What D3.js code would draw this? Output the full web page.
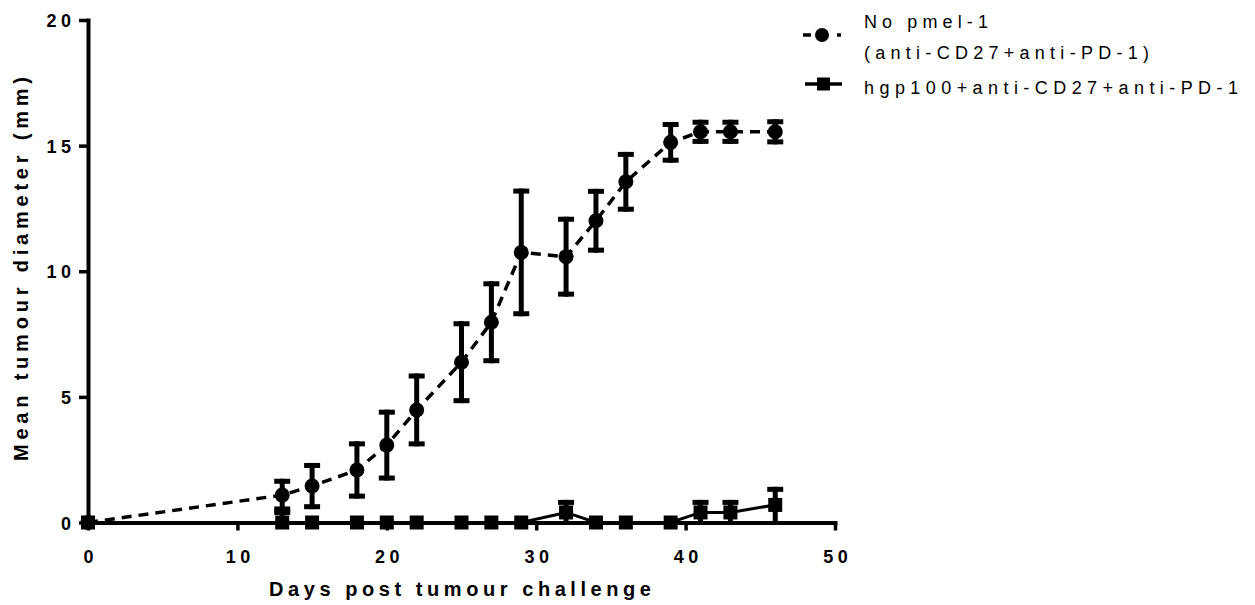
<!DOCTYPE html>
<html>
<head>
<meta charset="utf-8">
<script src="https://cdn.jsdelivr.net/npm/d3@7"></script>
<style>
  html, body { margin: 0; padding: 0; background: #fff; }
  svg { display: block; }
  text { font-family: "Liberation Sans", Arial, Helvetica, sans-serif; fill: #000; }
</style>
</head>
<body>
<svg id="chart" width="1255" height="605"></svg>
<script>
// Days after tumour challenge at which diameters were measured
const days = [0, 13, 15, 18, 20, 22, 25, 27, 29, 32, 34, 36, 39, 41, 43, 46];

// No pmel-1 (anti-CD27 + anti-PD-1): mean diameter (mm) and SEM
const noPmelMean = [0, 1.09, 1.45, 2.09, 3.08, 4.48, 6.38, 7.97, 10.75, 10.58, 12.01, 13.56, 15.13, 15.55, 15.55, 15.55];
const noPmelSem  = [0, 0.65, 0.92, 1.14, 1.41, 1.45, 1.63, 1.63, 2.54, 1.59, 1.27, 1.19, 0.81, 0.48, 0.48, 0.50];

// hgp100 + anti-CD27 + anti-PD-1: mean diameter (mm) and SEM
const hgpMean = [0, 0, 0, 0, 0, 0, 0, 0, 0, 0.4, 0, 0, 0, 0.4, 0.4, 0.7];
const hgpSem  = [0, 0.5, 0, 0, 0, 0, 0, 0, 0, 0.5, 0, 0, 0, 0.5, 0.5, 0.72];

const xTicks = [0, 10, 20, 30, 40, 50];
const yTicks = [0, 5, 10, 15, 20];
const xTitle = "Days post tumour challenge";
const yTitle = "Mean tumour diameter (mm)";
const legendNoPmel = ["No pmel-1", "(anti-CD27+anti-PD-1)"];
const legendHgp = ["hgp100+anti-CD27+anti-PD-1"];

const svg = d3.select("#chart");
const x = d3.scaleLinear().domain([0, 50]).range([88, 835]);
const y = d3.scaleLinear().domain([0, 20]).range([522.5, 20]);

// Text with wide letter spacing; either a fixed spacing or a target total width.
function spacedText(parent, str, o) {
  const t = parent.append("text").text(str)
    .style("font-size", o.size + "px")
    .style("font-weight", o.weight || "normal")
    .attr("text-anchor", "start")
    .attr("y", o.y || 0);
  const natural = t.node().getComputedTextLength();
  const gaps = Math.max(1, str.length - 1);
  const ls = o.spacing != null ? o.spacing : (o.width - natural) / gaps;
  const total = natural + ls * (str.length - 1);
  let x0 = o.x || 0;
  if (o.anchor === "middle") x0 -= total / 2;
  else if (o.anchor === "end") x0 -= total;
  t.style("letter-spacing", ls + "px").attr("x", x0);
  return t;
}

// ---- axes ----
const gx = svg.append("g")
  .attr("transform", `translate(0,${y(0)})`)
  .call(d3.axisBottom(x).tickValues(xTicks).tickSize(8).tickSizeOuter(0).tickFormat(d3.format("d")));
gx.select(".domain").attr("stroke", "#000").attr("stroke-width", 4).attr("stroke-linecap", "square");
gx.selectAll(".tick line").attr("stroke", "#000").attr("stroke-width", 3.5);
gx.selectAll(".tick text").remove();
gx.selectAll(".tick").each(function (d) {
  spacedText(d3.select(this), String(d), { x: 0, y: 563 - y(0), anchor: "middle", size: 18, weight: "bold", spacing: 4.5 });
});

const gy = svg.append("g")
  .attr("transform", `translate(${x(0)},0)`)
  .call(d3.axisLeft(y).tickValues(yTicks).tickSize(9).tickSizeOuter(0).tickFormat(d3.format("d")));
gy.select(".domain").attr("stroke", "#000").attr("stroke-width", 4).attr("stroke-linecap", "square");
gy.selectAll(".tick line").attr("stroke", "#000").attr("stroke-width", 3.5);
gy.selectAll(".tick text").remove();
gy.selectAll(".tick").each(function (d) {
  spacedText(d3.select(this), String(d), { x: -17, y: 6.5, anchor: "end", size: 18, weight: "bold", spacing: 4.5 });
});

// axis titles
spacedText(svg, xTitle, { x: 269, y: 596, size: 20, weight: "bold", width: 382 });
const yt = svg.append("g").attr("transform", "translate(28,461) rotate(-90)");
spacedText(yt, yTitle, { x: 0, y: 0, size: 20, weight: "bold", width: 384 });

// ---- data ----
const noPmel = days.map((d, i) => ({ day: d, mean: noPmelMean[i], sem: noPmelSem[i] }));
const hgp = days.map((d, i) => ({ day: d, mean: hgpMean[i], sem: hgpSem[i] }));

const line = d3.line().x(d => x(d.day)).y(d => y(d.mean));

function errorBars(data) {
  const g = svg.append("g");
  data.filter(d => d.sem > 0).forEach(d => {
    const hi = d.mean + d.sem;
    const lo = Math.max(0, d.mean - d.sem);
    const cx = x(d.day);
    g.append("line")
      .attr("x1", cx).attr("x2", cx)
      .attr("y1", y(hi)).attr("y2", y(lo))
      .attr("stroke", "#000").attr("stroke-width", 5);
    g.append("rect").attr("x", cx - 8).attr("y", y(hi)).attr("width", 16).attr("height", 5).attr("fill", "#000");
    if (d.mean - d.sem >= 0) {
      g.append("rect").attr("x", cx - 8).attr("y", y(lo) - 5).attr("width", 16).attr("height", 5).attr("fill", "#000");
    }
  });
}

// No pmel-1: dashed line with circles
svg.append("path").datum(noPmel)
  .attr("d", line).attr("fill", "none")
  .attr("stroke", "#000").attr("stroke-width", 3.5).attr("stroke-dasharray", "10,7");
errorBars(noPmel);
svg.append("g").selectAll("circle").data(noPmel).join("circle")
  .attr("cx", d => x(d.day)).attr("cy", d => y(d.mean)).attr("r", 7.5).attr("fill", "#000");

// hgp100: solid line with squares
svg.append("path").datum(hgp)
  .attr("d", line).attr("fill", "none")
  .attr("stroke", "#000").attr("stroke-width", 3);
errorBars(hgp);
svg.append("g").selectAll("rect").data(hgp).join("rect")
  .attr("x", d => x(d.day) - 7).attr("y", d => y(d.mean) - 7)
  .attr("width", 14).attr("height", 14).attr("fill", "#000");

// ---- legend ----
const lg = svg.append("g");
lg.append("line").attr("x1", 803).attr("x2", 841).attr("y1", 35).attr("y2", 35)
  .attr("stroke", "#000").attr("stroke-width", 3.5).attr("stroke-dasharray", "8,9");
lg.append("circle").attr("cx", 822).attr("cy", 35).attr("r", 7).attr("fill", "#000");
spacedText(lg, legendNoPmel[0], { x: 864, y: 28, size: 18, width: 124 });
spacedText(lg, legendNoPmel[1], { x: 864, y: 59, size: 18, width: 285 });

lg.append("line").attr("x1", 805).attr("x2", 842).attr("y1", 84).attr("y2", 84)
  .attr("stroke", "#000").attr("stroke-width", 3.5);
lg.append("rect").attr("x", 817).attr("y", 77.5).attr("width", 13).attr("height", 13).attr("fill", "#000");
spacedText(lg, legendHgp[0], { x: 864, y: 94, size: 18, width: 374 });
</script>
</body>
</html>
